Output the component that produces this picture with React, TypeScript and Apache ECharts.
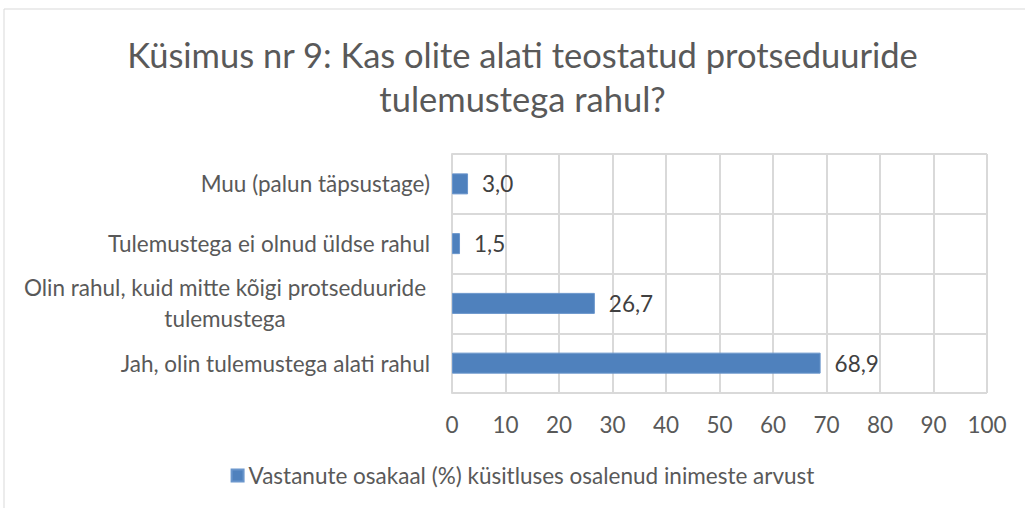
import React, { useEffect, useRef } from "react";
import * as echarts from "echarts";

const categories = [
  "Jah, olin tulemustega alati rahul",
  "Olin rahul, kuid mitte kõigi protseduuride\ntulemustega",
  "Tulemustega ei olnud üldse rahul",
  "Muu (palun täpsustage)",
];
const values = [68.9, 26.7, 1.5, 3.0];
const seriesName = "Vastanute osakaal (%) küsitluses osalenud inimeste arvust";
const titleText = "Küsimus nr 9: Kas olite alati teostatud protseduuride\ntulemustega rahul?";
const xTicks = { min: 0, max: 100, interval: 10 };

const FONT = "Lato, 'Open Sans', sans-serif";
const FS = 22.5;

export default function App() {
  const ref = useRef<HTMLDivElement>(null);
  useEffect(() => {
    if (!ref.current) return;
    const chart = echarts.init(ref.current, undefined, { renderer: "svg" });
    chart.setOption({
      animation: false,
      backgroundColor: "#ffffff",
      title: {
        text: titleText,
        left: "center",
        top: 27,
        textStyle: {
          fontFamily: FONT,
          fontWeight: "normal",
          fontSize: 34.5,
          color: "#595959",
          lineHeight: 44,
        },
      },
      graphic: [
        {
          type: "rect",
          shape: { x: 4, y: 9, width: 1060, height: 520 },
          style: { fill: "none", stroke: "#D9D9D9", lineWidth: 1 },
          silent: true,
          z: -1,
        },
      ],
      legend: {
        bottom: 16,
        left: "center",
        itemWidth: 12,
        itemHeight: 12,
        itemGap: 5,
        icon: "rect",
        textStyle: { fontFamily: FONT, fontSize: FS, color: "#595959" },
        data: [seriesName],
      },
      grid: { left: 452, right: 58, top: 154, bottom: 115, containLabel: false },
      xAxis: {
        type: "value",
        min: xTicks.min,
        max: xTicks.max,
        interval: xTicks.interval,
        axisLine: { show: false },
        axisTick: { show: false },
        splitLine: { show: true, lineStyle: { color: "#D9D9D9", width: 2 } },
        axisLabel: {
          margin: 20,
          fontFamily: FONT,
          fontSize: FS,
          color: "#595959",
        },
      },
      yAxis: {
        type: "category",
        data: categories,
        axisTick: { show: false },
        axisLine: { show: true, lineStyle: { color: "#D9D9D9", width: 2 } },
        splitLine: { show: true, lineStyle: { color: "#D9D9D9", width: 2 } },
        axisLabel: {
          margin: 22,
          fontFamily: FONT,
          fontSize: FS,
          color: "#595959",
          lineHeight: 31,
          formatter: (v: string) =>
            v.includes("\n")
              ? v
                  .split("\n")
                  .map((s) => `{c|${s}}`)
                  .join("\n")
              : v,
          rich: {
            c: {
              width: 410,
              align: "center",
              fontFamily: FONT,
              fontSize: FS,
              color: "#595959",
              lineHeight: 31,
            },
          },
        },
      },
      series: [
        {
          name: seriesName,
          type: "bar",
          data: values,
          barWidth: 21,
          itemStyle: { color: "#4F81BD", borderColor: "#6A96CC", borderWidth: 1 },
          label: {
            show: true,
            position: "right",
            distance: 14,
            fontFamily: FONT,
            fontSize: FS,
            color: "#404040",
            formatter: (p: any) => p.value.toFixed(1).replace(".", ","),
          },
        },
      ],
    });
    return () => chart.dispose();
  }, []);
  return (
    <div
      style={{
        position: "fixed",
        left: 0,
        top: 0,
        width: 1025,
        height: 508,
        overflow: "hidden",
        background: "#ffffff",
      }}
    >
      <div ref={ref} style={{ width: 1045, height: 508 }} />
    </div>
  );
}
